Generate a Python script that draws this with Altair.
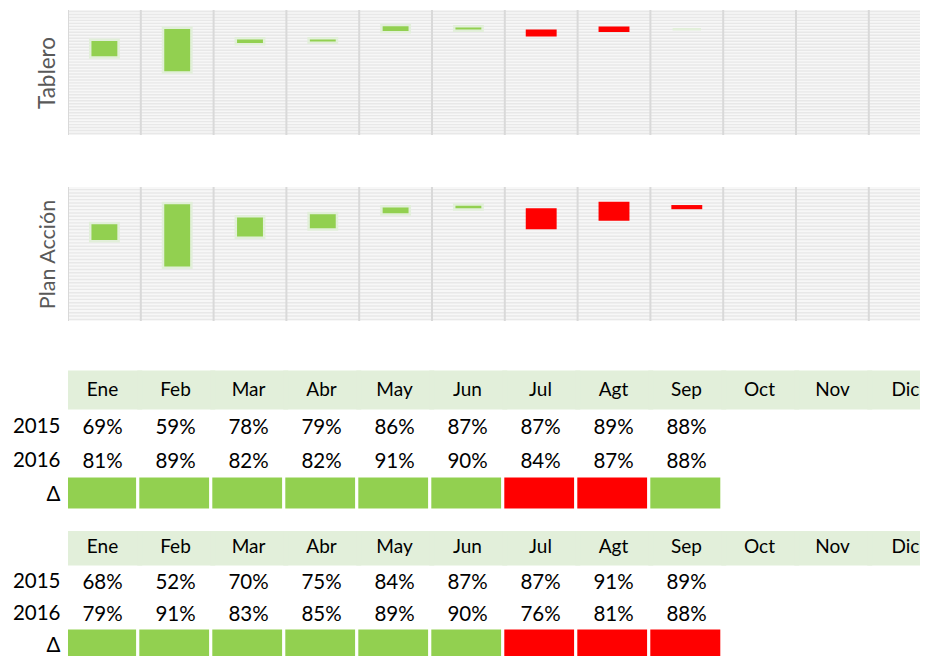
import altair as alt
import pandas as pd

# ---------------- data ----------------
months = ["Ene", "Feb", "Mar", "Abr", "May", "Jun", "Jul", "Agt", "Sep", "Oct", "Nov", "Dic"]
tablero_2015 = [69, 59, 78, 79, 86, 87, 87, 89, 88]
tablero_2016 = [81, 89, 82, 82, 91, 90, 84, 87, 88]
plan_2015 = [68, 52, 70, 75, 84, 87, 87, 91, 89]
plan_2016 = [79, 91, 83, 85, 89, 90, 76, 81, 88]
row_names = ["hdr", "2015", "2016", "Δ"]

GREEN = "#92D050"
RED = "#FF0000"
GLOW = "#E2EFDA"
HEADER = "#E2EFDA"
FONT = "Lato"
VIEW_W = 852          # visible width (page is cut at the right edge)
PANEL_RANGE = 873.6   # full 12-month extent of the panels
TABLE_RANGE = 876     # full 12-month extent of the tables


def frame(v15, v16):
    recs = []
    for i, m in enumerate(months):
        a = v15[i] if i < len(v15) else None
        b = v16[i] if i < len(v16) else None
        st = None if a is None else ("up" if b >= a else "down")
        recs.append({"mes": m, "v2015": a, "v2016": b, "estado": st})
    return pd.DataFrame(recs)


fill_scale = alt.Scale(domain=["up", "down"], range=[GREEN, RED])
stroke_scale = alt.Scale(domain=["up", "down"], range=[GLOW, RED])


def panel(v15, v16, title, lo, hi, plot_h, total_h, title_size):
    df = frame(v15, v16)
    xscale = alt.Scale(domain=months, range=[0, PANEL_RANGE], paddingInner=0, paddingOuter=0)
    yscale = alt.Scale(domain=[lo, hi], range=[plot_h, 0], nice=False, zero=False)
    stripes = pd.DataFrame({"g": list(range(int(lo) + 1, 101, 2))})
    yaxis = alt.Axis(title=title, labels=False, ticks=False, domain=False, grid=False,
                     titleFont=FONT, titleFontSize=title_size, titleFontWeight="normal",
                     titleColor="#595959", titlePadding=9, minExtent=0, maxExtent=0)
    xenc = alt.X("mes:N", sort=months, scale=xscale, axis=None)

    bg = alt.Chart(df).mark_rect(fill="#f7f7f7", clip=True).encode(
        x=xenc, y=alt.YDatum(lo, scale=yscale, axis=yaxis), y2=alt.datum(hi),
    )
    grid = alt.Chart(stripes).mark_rule(color="#e8e8e8", strokeWidth=1.4, clip=True).encode(
        y=alt.Y("g:Q", axis=yaxis)
    )
    vlines = alt.Chart(df).mark_rule(color="#d9d9d9", strokeWidth=2, clip=True).encode(
        x=alt.X("mes:N", sort=months, scale=xscale, bandPosition=0, axis=None),
        y=alt.YDatum(hi, axis=yaxis), y2=alt.datum(lo),
    )
    bars = alt.Chart(df).mark_bar(width=alt.RelativeBandSize(0.39), strokeWidth=2.5, clip=True).encode(
        x=xenc,
        y=alt.Y("v2015:Q", scale=yscale, axis=yaxis),
        y2="v2016:Q",
        fill=alt.Fill("estado:N", scale=fill_scale, legend=None),
        stroke=alt.Stroke("estado:N", scale=stroke_scale, legend=None),
    )
    return alt.layer(bg, grid, vlines, bars).properties(width=VIEW_W, height=total_h)


def table(v15, v16, top, band, total_h):
    df = frame(v15, v16)
    hdr = pd.DataFrame({"mes": months, "fila": "hdr", "texto": months})
    vals = pd.concat([
        pd.DataFrame({"mes": months[:len(v15)], "fila": "2015", "texto": [f"{v}%" for v in v15]}),
        pd.DataFrame({"mes": months[:len(v16)], "fila": "2016", "texto": [f"{v}%" for v in v16]}),
    ])
    delta = df.dropna(subset=["estado"]).assign(fila="Δ")

    xscale = alt.Scale(domain=months, range=[0, TABLE_RANGE], paddingInner=0, paddingOuter=0)
    yscale = alt.Scale(domain=row_names, range=[top, top + 4 * band], paddingInner=0, paddingOuter=0)
    xenc = alt.X("mes:N", sort=months, scale=xscale, axis=None)
    yaxis = alt.Axis(title=None, ticks=False, domain=False, grid=False,
                     labelExpr="datum.value == 'hdr' ? '' : datum.value",
                     labelFont=FONT, labelFontSize=20.5, labelColor="black",
                     labelPadding=8, labelOffset=3)
    yenc = alt.Y("fila:N", sort=row_names, scale=yscale, axis=yaxis)

    hbg = alt.Chart(hdr).mark_rect(fill=HEADER, stroke=HEADER, strokeWidth=5, xOffset=-1.2, clip=True).encode(
        x=xenc, y=yenc,
    )
    htxt = alt.Chart(hdr).mark_text(font=FONT, fontSize=19, color="black", dx=-2).encode(
        x=xenc, y=yenc, text="texto:N"
    )
    vtxt = alt.Chart(vals).mark_text(font=FONT, fontSize=20.5, color="black", dx=-2, dy=4).encode(
        x=xenc, y=yenc, text="texto:N"
    )
    cells = alt.Chart(delta).mark_rect(stroke="white", strokeWidth=3, xOffset=-3.2, yOffset=1, clip=True).encode(
        x=xenc, y=yenc,
        fill=alt.Fill("estado:N", scale=fill_scale, legend=None),
    )
    return alt.layer(hbg, cells, htxt, vtxt).properties(width=VIEW_W, height=total_h)


p1 = panel(tablero_2015, tablero_2016, "Tablero", 17, 101, 125, 177, 22.5)
p2 = panel(plan_2015, plan_2016, "Plan Acción", 20, 100.6, 134, 182, 21.5)
t1 = table(tablero_2015, tablero_2016, 4, 34, 162)
t2 = table(plan_2015, plan_2016, 0, 32, 128)

chart = (
    alt.vconcat(p1, p2, t1, t2, spacing=0, bounds="flush")
    .properties(padding={"left": 4, "top": 2, "right": 0, "bottom": 0}, background="white")
    .configure_view(stroke=None)
)

chart.save("out.html", embed_options={"renderer": "svg", "actions": False})
